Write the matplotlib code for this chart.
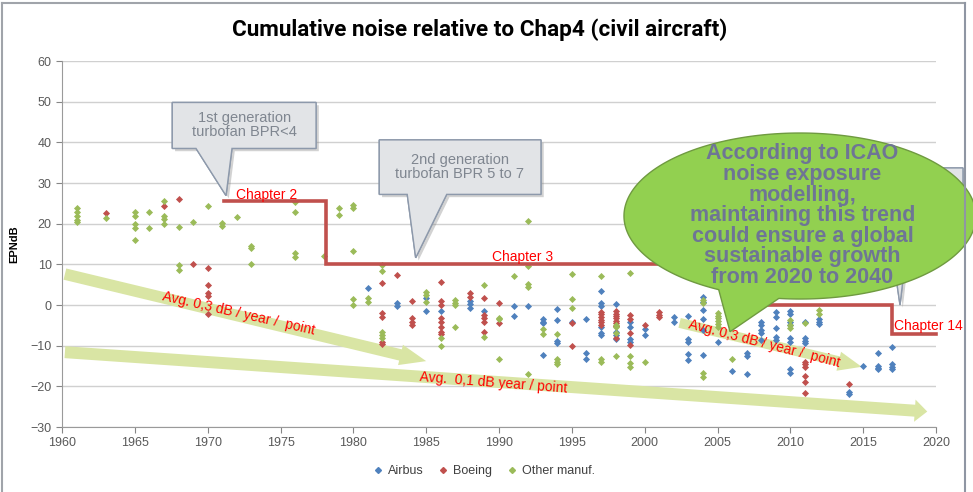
import numpy as np
import matplotlib.pyplot as plt
from matplotlib.patches import Polygon
from matplotlib.lines import Line2D
import matplotlib.patheffects as pe

# ---------------------------------------------------------------------------
# Data (year of certification, EPNdB margin vs Chapter 4)
# ---------------------------------------------------------------------------

airbus_year = [1981, 1983, 1983, 1985, 1985, 1986, 1988, 1988, 1988, 1989,
               1991, 1991, 1992, 1993, 1993, 1993, 1993,
               1994, 1994, 1994, 1994, 1995, 1996, 1996, 1996,
               1997, 1997, 1997, 1997, 1997, 1997, 1998, 1998, 1998, 1998,
               1999, 1999, 1999, 1999, 2000, 2000, 2002, 2002,
               2003, 2003, 2003, 2003, 2003, 2004, 2004, 2004, 2004, 2004, 2004,
               2005, 2006, 2007, 2007, 2007,
               2008, 2008, 2008, 2008, 2008, 2009, 2009, 2009, 2009, 2009,
               2010, 2010, 2010, 2010, 2010, 2010, 2010, 2010,
               2011, 2011, 2011, 2011, 2012, 2012, 2012,
               2014, 2014, 2015, 2016, 2016, 2016, 2016, 2017, 2017, 2017, 2017]
airbus_epndb = [4.3, 0.4, -0.2, 1.6, -1.4, -1.4, 1.0, 0.2, -0.8, -1.5,
                -0.2, -2.7, -0.2, -3.5, -4.1, -4.5, -12.3,
                -1.0, -3.6, -8.9, -9.4, -4.1, -3.5, -11.8, -13.4,
                3.4, 0.4, -0.2, -5.3, -6.8, -7.4, 0.2, -6.7, -7.4, -8.4,
                -4.1, -5.3, -8.4, -9.2, -6.0, -7.4, -2.9, -4.1,
                -2.6, -8.4, -9.0, -12.0, -13.6, 2.0, 0.8, -1.2, -3.4, -6.1, -12.3,
                -9.0, -16.2, -11.9, -12.6, -17.0,
                -4.1, -4.9, -6.1, -7.0, -8.6, -1.6, -2.9, -5.7, -7.8, -8.6,
                -1.4, -2.2, -4.1, -4.9, -8.2, -9.2, -15.8, -16.8,
                -4.1, -8.0, -8.8, -9.4, -3.5, -4.1, -4.7,
                -21.3, -21.9, -15.1, -11.7, -15.0, -15.4, -15.8, -10.4, -14.6, -15.2, -15.8]

boeing_year = [1963, 1967, 1968, 1969, 1970, 1970, 1970, 1970, 1970,
               1982, 1982, 1982, 1982, 1982, 1983, 1984, 1984, 1984, 1984,
               1986, 1986, 1986, 1986, 1986, 1986, 1986, 1986,
               1988, 1988, 1989, 1989, 1989, 1989, 1989, 1990, 1990, 1995, 1995,
               1997, 1997, 1997, 1997, 1997, 1997,
               1998, 1998, 1998, 1998, 1998, 1998, 1998, 1998,
               1999, 1999, 1999, 1999, 2000, 2001, 2001, 2001,
               2011, 2011, 2011, 2011, 2011, 2011, 2014]
boeing_epndb = [22.6, 24.4, 26.0, 10.0, 9.0, 5.0, 2.9, 2.2, -2.2,
                5.3, -2.0, -2.9, -9.0, -9.6, 7.5, 1.0, -3.3, -4.1, -4.8,
                5.6, 1.0, 0.0, -3.3, -4.1, -5.3, -6.6, -7.1,
                2.9, 2.0, 1.6, -2.5, -3.3, -4.1, -6.6, 0.6, -4.5, -4.5, -10.2,
                -1.6, -2.3, -3.0, -3.6, -4.2, -4.8,
                -1.5, -2.1, -2.7, -3.3, -3.9, -4.5, -5.1, -8.1,
                -2.5, -3.5, -6.8, -9.8, -4.9, -1.8, -2.4, -2.9,
                -13.9, -14.6, -15.3, -17.5, -18.9, -21.7, -19.4]

other_year = [1961, 1961, 1961, 1961, 1961, 1963, 1965, 1965, 1965, 1965, 1965,
              1966, 1966, 1967, 1967, 1967, 1967, 1968, 1968, 1968, 1969, 1970,
              1971, 1971, 1972, 1973, 1973, 1973, 1976, 1976, 1976, 1976, 1978,
              1979, 1979, 1980, 1980, 1980, 1980, 1980, 1981, 1981,
              1982, 1982, 1982, 1982, 1982, 1985, 1985, 1985, 1986, 1986,
              1987, 1987, 1987, 1987, 1989, 1989, 1990, 1990, 1990, 1991,
              1992, 1992, 1992, 1992, 1992, 1993, 1993,
              1994, 1994, 1994, 1994, 1995, 1995, 1995, 1997, 1997, 1997,
              1998, 1998, 1998, 1998, 1999, 1999, 1999, 1999, 2000,
              2004, 2004, 2004, 2004, 2005, 2005, 2005, 2005, 2005, 2005,
              2006, 2010, 2010, 2010, 2011, 2012, 2012]
other_epndb = [23.8, 22.8, 22.0, 20.8, 20.4, 21.3, 22.8, 22.0, 19.8, 19.0, 16.0,
               22.8, 19.0, 25.6, 21.9, 21.2, 19.8, 19.3, 9.8, 8.6, 20.5, 24.3,
               20.1, 19.4, 21.6, 14.6, 13.9, 10.0, 25.4, 22.9, 12.7, 11.9, 12.0,
               23.8, 22.1, 24.6, 23.8, 13.3, 1.5, 0.0, 1.8, 0.8,
               9.8, 8.4, -6.6, -7.4, -8.2, 3.3, 2.5, 0.8, -8.2, -10.0,
               1.2, 0.6, 0.0, -5.5, 5.0, -7.8, -3.1, -3.5, -13.3, 7.1,
               20.7, 9.6, 5.1, 4.5, -17.0, -5.9, -7.1,
               -7.1, -13.3, -13.9, -14.5, 7.6, 1.4, -0.7, 7.1, -13.3, -13.9,
               -4.8, -5.3, -7.0, -12.5, 7.9, -12.5, -14.3, -15.3, -13.9,
               1.2, 0.6, -16.7, -17.6, -2.0, -2.7, -3.3, -4.0, -4.6, -5.3,
               -13.4, -3.7, -4.9, -5.7, -4.5, -1.2, -2.2]

# ICAO noise limits (step line): Chapter 2 -> 3 -> 4 -> 14
chapter_year = [1971.1, 1978.1, 2006.0, 2017.0, 2020.0]
chapter_level = [25.6, 10.1, 0.0, -7.2, -7.2]

x_ticks = [1960, 1965, 1970, 1975, 1980, 1985, 1990, 1995, 2000, 2005, 2010, 2015, 2020]
y_ticks = [-30, -20, -10, 0, 10, 20, 30, 40, 50, 60]

# ---------------------------------------------------------------------------
# Styles
# ---------------------------------------------------------------------------

c_airbus = '#4F81BD'
c_boeing = '#C0504D'
c_other = '#9BBB59'
c_arrow = '#D9E5A4'
c_tick = '#595959'
f_label = ['Liberation Sans', 'DejaVu Sans']

fig = plt.figure(figsize=(9.73, 4.92), dpi=100)
ax = fig.add_axes([62/973, 1 - 427/492, 874/973, 366/492])

ax.set_xlim(1960, 2020)
ax.set_ylim(-30, 60)
ax.set_xticks(x_ticks)
ax.set_yticks(y_ticks)
ax.tick_params(colors='#868686', labelcolor=c_tick, labelsize=9, length=4)
for lab in ax.get_xticklabels() + ax.get_yticklabels():
    lab.set_family(f_label)
ax.grid(axis='y', color='#D0D0D0', lw=1)
ax.set_axisbelow(True)
for s in ['top', 'right']:
    ax.spines[s].set_visible(False)
for s in ['left', 'bottom']:
    ax.spines[s].set_color('#9A9A9A')
ax.set_ylabel('EPNdB', fontsize=8, fontweight='bold', family=f_label, labelpad=8)

# trend arrows (under the points)
arrows = [((1960.2, 7.6), (1985.0, -13.8), 8.3, 15, 19),
          ((1960.2, -11.6), (2019.4, -26.2), 8.6, 16, 9),
          ((2002.4, -4.4), (2014.9, -15.2), 7.2, 14, 17)]
for start, tip, tw, hw, hl in arrows:
    ax.annotate('', xy=tip, xytext=start, zorder=1.5,
                arrowprops=dict(arrowstyle='simple,head_length=%g,head_width=%g,tail_width=%g' % (hl, hw, tw),
                                mutation_scale=1, color=c_arrow, lw=0, shrinkA=0, shrinkB=0))

ax.scatter(airbus_year, airbus_epndb, marker='D', s=13, color=c_airbus, zorder=3, lw=0)
ax.scatter(boeing_year, boeing_epndb, marker='D', s=13, color=c_boeing, zorder=3, lw=0)
ax.scatter(other_year, other_epndb, marker='D', s=13, color=c_other, zorder=3, lw=0)

ax.plot(chapter_year, chapter_level, drawstyle='steps-post', color=c_boeing, lw=2.6, zorder=4,
        solid_joinstyle='miter', clip_on=False)

# red labels
red_txt = dict(color='red', fontsize=10, family=f_label, zorder=6)
ax.text(1971.95, 27.0, 'Chapter 2', ha='left', va='center', **red_txt)
ax.text(1989.5, 11.7, 'Chapter 3', ha='left', va='center', **red_txt)
ax.text(2017.1, -5.2, 'Chapter 14', ha='left', va='center', **red_txt)
ax.text(1972.1, -2.0, 'Avg. 0,3 dB / year /  point', rotation=-12.8, ha='center', va='center',
        rotation_mode='anchor', **red_txt)
ax.text(1989.6, -19.2, 'Avg.  0,1 dB year / point', rotation=-4.5, ha='center', va='center',
        rotation_mode='anchor', **red_txt)
ax.text(2008.2, -9.6, 'Avg. 0,3 dB / year /  point', rotation=-14.5, ha='center', va='center',
        rotation_mode='anchor', **red_txt)


# gray callouts (rectangle + pointer)
def callout(x0, x1, y0, y1, b0, b1, tip, z):
    pts = [(x0, y1), (x1, y1), (x1, y0), (b1, y0), tip, (b0, y0), (x0, y0)]
    p = Polygon(pts, closed=True, facecolor='#E2E4E7', edgecolor='#8D99AB', lw=1,
                zorder=z, clip_on=False,
                path_effects=[pe.withSimplePatchShadow(offset=(2, -2), shadow_rgbFace='#808080', alpha=0.35),
                              pe.Normal()])
    ax.add_patch(p)


callout(1967.57, 1977.44, 38.5, 49.8, 1969.2, 1971.67, (1971.26, 26.9), 7)
callout(1981.78, 1992.88, 27.2, 40.6, 1983.7, 1986.41, (1984.28, 11.6), 7)
callout(2013.4, 2021.85, 25.5, 33.7, 2016.5, 2018.35, (2017.53, 0.0), 7)

gray_txt = dict(color='#7F8690', fontsize=10.5, family=f_label, ha='center', va='center',
                linespacing=1.0, zorder=8)
ax.text(1972.5, 44.3, '1st generation\nturbofan BPR<4', **gray_txt)
ax.text(1987.3, 34.0, '2nd generation\nturbofan BPR 5 to 7', **gray_txt)

# green speech ellipse
cx, cy, ea, eb = 2010.66, 21.88, 12.08, 20.41
t = np.radians(np.linspace(263.1, 602.5, 300))
ell = list(zip(cx + ea * np.cos(t), cy + eb * np.sin(t)))
ell.append((2005.86, -6.57))
ax.add_patch(Polygon(ell, closed=True, facecolor='#92D050', edgecolor='#6F9A40', lw=1,
                     zorder=9, clip_on=False))
ax.text(2010.83, 22.0, 'According to ICAO\nnoise exposure\nmodelling,\nmaintaining this trend\n'
        'could ensure a global\nsustainable growth\nfrom 2020 to 2040',
        ha='center', va='center', fontsize=15.5, fontweight='bold', color='#6E7595',
        family=f_label, linespacing=0.97, zorder=10)

# title
fig.text(480/973, 1 - 30/492, 'Cumulative noise relative to Chap4 (civil aircraft)',
         ha='center', va='center', fontsize=16.2, fontweight='bold',
         family=['Roboto', 'DejaVu Sans'])

# legend
handles = [Line2D([], [], ls='', marker='D', ms=3, color=c) for c in (c_airbus, c_boeing, c_other)]
fig.legend(handles, ['Airbus', 'Boeing', 'Other manuf.'], loc='center', ncol=3,
           bbox_to_anchor=(484/973, 1 - 471/492), frameon=False,
           handlelength=0.8, handletextpad=0.4, columnspacing=1.2,
           prop={'family': f_label, 'size': 9}, labelcolor='#404040')

# frame of the slide
fig.add_artist(Line2D([1.5/973, 965/973], [1 - 3/492, 1 - 3/492], color='#A0A4AA', lw=1.5, zorder=20))
fig.add_artist(Line2D([1.5/973, 1.5/973], [0, 1 - 3/492], color='#A0A4AA', lw=1.5, zorder=20))
fig.add_artist(Line2D([965/973, 965/973], [0, 1 - 3/492], color='#8F96A3', lw=1.5, zorder=20))

fig.savefig('out.png', dpi=100)
